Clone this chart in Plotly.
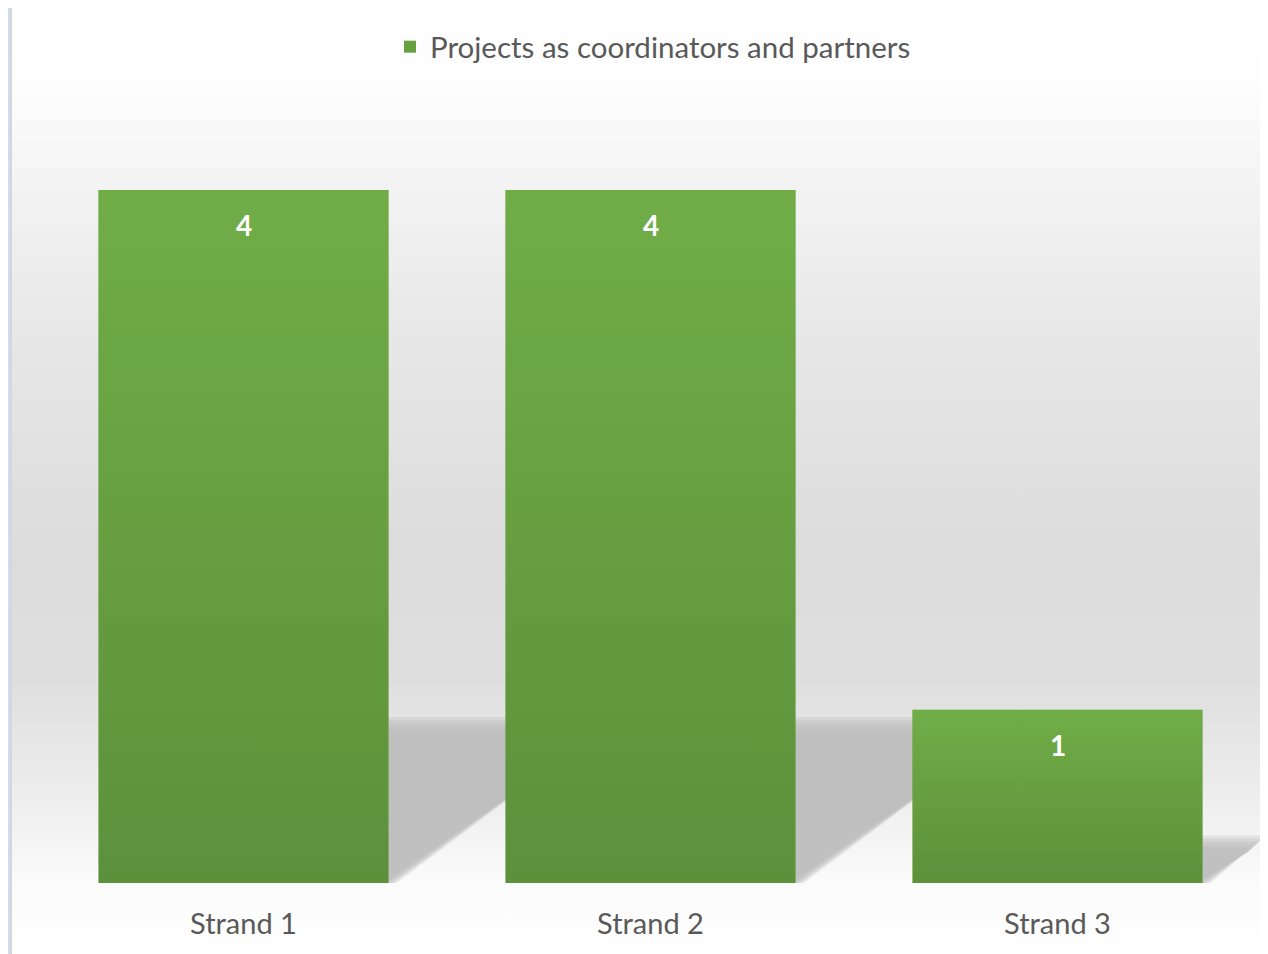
import base64
import plotly.graph_objects as go

categories = ["Strand 1", "Strand 2", "Strand 3"]
values = [4, 4, 1]
series_name = "Projects as coordinators and partners"

BAR_COLOR = "#67a041"
BAR_TOP = "#70ad47"
BAR_BOTTOM = "#5d903b"
SHADOW = (190, 190, 190)
TEXT_GRAY = "#595959"
FONT = "Lato, 'Open Sans', sans-serif"

# page body has an 8px margin; the figure is sized to sit inside 1268x954
W, H = 1260, 946
ML, MR, MT, MB = 32, 7, 102, 71
plot_w = W - ML - MR
plot_h = H - MT - MB
YMAX = 4 * plot_h / 693.0


def svg_uri(svg):
    return "data:image/svg+xml;base64," + base64.b64encode(svg.encode()).decode()


# background (decorative) as an SVG gradient
bg_svg = f'''<svg xmlns="http://www.w3.org/2000/svg" width="{W}" height="{H}" viewBox="0 0 {W} {H}" preserveAspectRatio="none">
<defs><linearGradient id="g" x1="0" y1="0" x2="0" y2="1">
<stop offset="0" stop-color="#ffffff"/>
<stop offset="0.09" stop-color="#fdfdfd"/>
<stop offset="0.19" stop-color="#f3f3f3"/>
<stop offset="0.37" stop-color="#e6e6e6"/>
<stop offset="0.58" stop-color="#dcdcdc"/>
<stop offset="0.71" stop-color="#dfdfdf"/>
<stop offset="0.84" stop-color="#efefef"/>
<stop offset="0.92" stop-color="#fbfbfb"/>
<stop offset="1" stop-color="#ffffff"/>
</linearGradient></defs>
<rect x="0" y="0" width="{W}" height="{H}" fill="#cddfef"/>
<rect x="3" y="-4" width="{W + 10}" height="{H + 10}" fill="url(#g)" stroke="#d6d6d6" stroke-width="2"/>
</svg>'''

bar_svg = f'''<svg xmlns="http://www.w3.org/2000/svg" width="100" height="100" viewBox="0 0 100 100" preserveAspectRatio="none">
<defs><linearGradient id="b" x1="0" y1="0" x2="0" y2="1">
<stop offset="0" stop-color="{BAR_TOP}"/>
<stop offset="1" stop-color="{BAR_BOTTOM}"/>
</linearGradient></defs>
<rect x="0" y="0" width="100" height="100" fill="url(#b)"/>
</svg>'''

xs = list(range(len(categories)))
bar_w = 290 / 407.0
px_x = plot_w / 3.0
px_y = plot_h / YMAX

fig = go.Figure()
fig.add_trace(go.Bar(
    x=xs, y=values, name=series_name, width=bar_w,
    marker=dict(color=BAR_COLOR, line=dict(width=0)),
    hoverinfo="skip",
))

images = [dict(source=svg_uri(bg_svg), xref="paper", yref="paper",
               x=-ML / plot_w, y=(plot_h + MT) / plot_h,
               sizex=W / plot_w, sizey=H / plot_h,
               sizing="stretch", xanchor="left", yanchor="top", layer="below")]
# gradient skin over each bar, sized from the data
for xi, v in zip(xs, values):
    images.append(dict(source=svg_uri(bar_svg), xref="x", yref="y",
                       x=xi - bar_w / 2, y=v, sizex=bar_w, sizey=v,
                       sizing="stretch", xanchor="left", yanchor="top",
                       layer="above"))

# soft shadows derived from the data
shapes = []
layers = [(8, 0.3), (5, 0.35), (2, 0.4), (-1, 0.45), (-4, 0.5), (-7, 0.6)]
for xi, v in zip(xs, values):
    h = 0.228 * v
    dx = 1.4 * h * px_y / px_x
    for grow, a in layers:
        gx = grow / px_x
        gy = grow / px_y
        x0 = xi - bar_w / 2
        x1 = xi + bar_w / 2
        path = (f"M {x0} 0 L {x1 + gx} 0 L {x1 + dx + gx} {h + gy} "
                f"L {x0 + dx} {h + gy} Z")
        shapes.append(dict(type="path", path=path, xref="x", yref="y",
                           fillcolor=f"rgba({SHADOW[0]},{SHADOW[1]},{SHADOW[2]},{a})",
                           line=dict(width=0), layer="below"))

annotations = []
for xi, v in zip(xs, values):
    annotations.append(dict(x=xi, y=v, text=f"<b>{v}</b>", showarrow=False,
                            yshift=-35, font=dict(color="white", size=28, family=FONT)))

fig.update_layout(
    width=W, height=H,
    margin=dict(l=ML, r=MR, t=MT, b=MB, pad=0),
    paper_bgcolor="white", plot_bgcolor="rgba(0,0,0,0)",
    images=images,
    shapes=shapes,
    annotations=annotations,
    showlegend=True,
    legend=dict(orientation="h", xref="container", yref="container",
                x=645 / W, y=1 - 39 / H, xanchor="center", yanchor="middle",
                font=dict(size=29.5, color=TEXT_GRAY, family=FONT),
                bgcolor="rgba(0,0,0,0)"),
    xaxis=dict(range=[-0.5, 2.5], tickvals=xs, ticktext=categories,
               showgrid=False, zeroline=False, showline=False, ticks="",
               ticklabelstandoff=21,
               tickfont=dict(size=29, color=TEXT_GRAY, family=FONT)),
    yaxis=dict(range=[0, YMAX], visible=False, showgrid=False, zeroline=False),
    font=dict(family=FONT),
)

fig.write_html("out.html")
